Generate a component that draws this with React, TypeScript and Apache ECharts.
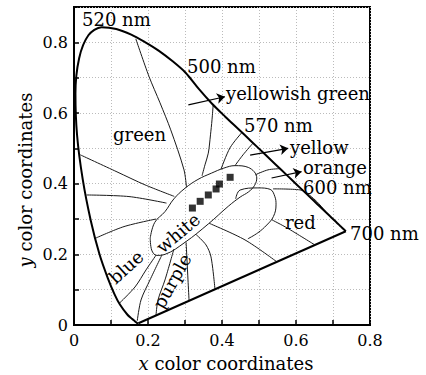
import React, { useEffect, useRef } from "react";
import * as echarts from "echarts";

// spectral locus as drawn (380 nm ... 700 nm)
const locusX = [0.1741, 0.1738, 0.1733, 0.1726, 0.1714, 0.1689, 0.1644, 0.1566, 0.144, 0.1241, 0.1096, 0.0913, 0.0687, 0.0454, 0.0235, 0.0082, 0.0039, 0.0139, 0.0389, 0.0743, 0.1142, 0.1547, 0.1929, 0.2296, 0.2658, 0.3016, 0.3373, 0.3731, 0.4087, 0.4441, 0.4788, 0.5125, 0.5448, 0.5752, 0.6029, 0.627, 0.6482, 0.6658, 0.6801, 0.6915, 0.7006, 0.7079, 0.714, 0.719, 0.723, 0.726, 0.7347];
const locusY = [0.005, 0.0049, 0.0048, 0.0048, 0.0051, 0.0069, 0.0109, 0.0177, 0.0297, 0.0578, 0.0868, 0.1327, 0.2007, 0.295, 0.4127, 0.5384, 0.6548, 0.755, 0.82, 0.843, 0.838, 0.822, 0.8, 0.776, 0.747, 0.714, 0.668, 0.626, 0.5896, 0.5547, 0.5202, 0.4866, 0.4544, 0.4242, 0.3965, 0.3725, 0.3514, 0.334, 0.3197, 0.3083, 0.2993, 0.292, 0.2859, 0.2809, 0.277, 0.274, 0.2653];

// white region outline
const whiteX = [0.206, 0.218, 0.246, 0.27, 0.3, 0.335, 0.372, 0.405, 0.435, 0.471, 0.494, 0.488, 0.472, 0.449, 0.417, 0.363, 0.3, 0.246, 0.224, 0.21, 0.206];
const whiteY = [0.246, 0.29, 0.321, 0.357, 0.387, 0.412, 0.43, 0.444, 0.451, 0.446, 0.416, 0.395, 0.377, 0.362, 0.336, 0.286, 0.234, 0.2, 0.197, 0.212, 0.246];

// lobe right of the white region
const lobeX = [0.437, 0.449, 0.497, 0.53, 0.543, 0.546, 0.539, 0.521, 0.497, 0.47];
const lobeY = [0.357, 0.382, 0.388, 0.384, 0.363, 0.34, 0.307, 0.283, 0.261, 0.244];

// region boundary lines: [x list, y list]
const boundaryLines: [number[], number[]][] = [
  [[0.167, 0.2027, 0.2324, 0.2614, 0.2973, 0.304], [0.81, 0.7034, 0.6289, 0.5524, 0.4391, 0.39]],
  [[0.376, 0.373, 0.3689, 0.363, 0.354, 0.346], [0.621, 0.5807, 0.5382, 0.4864, 0.4533, 0.4221]],
  [[0.454, 0.4216, 0.397], [0.545, 0.5014, 0.44]],
  [[0.484, 0.4568, 0.435], [0.515, 0.4816, 0.451]],
  [[0.49, 0.5243, 0.557], [0.425, 0.4391, 0.4425]],
  [[0.5378, 0.6108, 0.6514, 0.6865], [0.3853, 0.3824, 0.3541, 0.313]],
  [[0.5351, 0.5757, 0.651], [0.2975, 0.2748, 0.2266]],
  [[0.365, 0.4622, 0.5486], [0.288, 0.2408, 0.1785]],
  [[0.33, 0.3568, 0.3703, 0.381], [0.256, 0.2266, 0.1926, 0.101]],
  [[0.303, 0.3054, 0.3081, 0.311], [0.234, 0.1841, 0.1275, 0.0685]],
  [[0.27, 0.2459, 0.227, 0.2216], [0.215, 0.1275, 0.0708, 0.027]],
  [[0.238, 0.2054, 0.1811, 0.171], [0.199, 0.1275, 0.0708, 0.012]],
  [[0.222, 0.1946, 0.1649, 0.123], [0.198, 0.1558, 0.1076, 0.062]],
  [[0.058, 0.1351, 0.222], [0.2456, 0.2785, 0.3]],
  [[0.034, 0.1486, 0.25], [0.368, 0.3635, 0.345]],
  [[0.017, 0.1162, 0.1919, 0.271], [0.4816, 0.4334, 0.3966, 0.364]],
];

// measured chromaticity points
const pointX = [0.32, 0.341, 0.363, 0.384, 0.393, 0.422];
const pointY = [0.331, 0.35, 0.368, 0.385, 0.399, 0.418];

// arrows [x1, y1, x2, y2]
const arrows = [
  [0.309, 0.623, 0.408, 0.646],
  [0.476, 0.481, 0.579, 0.5],
  [0.534, 0.416, 0.615, 0.434],
];

const xTickValues = [0, 0.2, 0.4, 0.6, 0.8];
const yTickValues = [0, 0.2, 0.4, 0.6, 0.8];

const FONT = "DejaVu Serif";

function pairs(xs: number[], ys: number[]) {
  return xs.map((x, i) => [x, ys[i]]);
}

function fmt(v: number, ticks: number[]) {
  const hit = ticks.find((t) => Math.abs(t - v) < 1e-6);
  if (hit === undefined) return "";
  return hit === 0 ? "0" : hit.toFixed(1);
}

export default function App() {
  const ref = useRef<HTMLDivElement>(null);
  useEffect(() => {
    if (!ref.current) return;
    const chart = echarts.init(ref.current, undefined, { renderer: "svg" });
    const thin = { color: "#1a1a1a", width: 1 };
    const series: any[] = [
      {
        type: "line",
        data: pairs(locusX, locusY),
        smooth: 0.3,
        symbol: "none",
        lineStyle: { color: "#000", width: 2 },
        z: 5,
      },
      {
        type: "line",
        data: [
          [locusX[0], locusY[0]],
          [locusX[locusX.length - 1], locusY[locusY.length - 1]],
        ],
        symbol: "none",
        lineStyle: { color: "#000", width: 2 },
        z: 5,
      },
      {
        type: "line",
        data: pairs(whiteX, whiteY),
        smooth: 0.4,
        symbol: "none",
        lineStyle: thin,
      },
      {
        type: "line",
        data: pairs(lobeX, lobeY),
        smooth: 0.4,
        symbol: "none",
        lineStyle: thin,
      },
      ...boundaryLines.map(([xs, ys]) => ({
        type: "line",
        data: pairs(xs, ys),
        smooth: 0.3,
        symbol: "none",
        lineStyle: thin,
      })),
      {
        type: "scatter",
        data: pairs(pointX, pointY),
        symbol: "rect",
        symbolSize: 7,
        itemStyle: { color: "#000" },
        z: 6,
      },
      {
        type: "lines",
        coordinateSystem: "cartesian2d",
        data: arrows.map((a) => ({ coords: [[a[0], a[1]], [a[2], a[3]]] })),
        symbol: ["none", "arrow"],
        symbolSize: 8,
        lineStyle: { color: "#000", width: 1.2, opacity: 1 },
        z: 6,
      },
    ];
    const label = (text: string, x: number, y: number, rot = 0, align = "left") => ({
      type: "text",
      x,
      y,
      rotation: (rot * Math.PI) / 180,
      z: 10,
      style: {
        text,
        fill: "#000",
        font: `18px "${FONT}"`,
        textAlign: align,
        textVerticalAlign: "middle",
      },
    });
    chart.setOption({
      animation: false,
      grid: {
        left: 74,
        right: 56,
        top: 7,
        bottom: 50,
        show: true,
        borderColor: "#000",
        borderWidth: 2,
      },
      xAxis: {
        type: "value",
        min: 0,
        max: 0.8,
        interval: 0.1,
        axisLine: { lineStyle: { color: "#000", width: 2 } },
        axisTick: { inside: true, length: 5, lineStyle: { color: "#000", width: 1.5 } },
        axisLabel: {
          formatter: (v: number) => fmt(v, xTickValues),
          color: "#000",
          fontFamily: FONT,
          fontSize: 16,
          margin: 7,
        },
        splitLine: { show: true, lineStyle: { color: "#bbb", type: [1, 2], width: 1 } },
      },
      yAxis: {
        type: "value",
        min: 0,
        max: 0.9,
        interval: 0.1,
        axisLine: { lineStyle: { color: "#000", width: 2 } },
        axisTick: { inside: true, length: 5, lineStyle: { color: "#000", width: 1.5 } },
        axisLabel: {
          formatter: (v: number) => fmt(v, yTickValues),
          color: "#000",
          fontFamily: FONT,
          fontSize: 16,
          margin: 6,
        },
        splitLine: { show: true, lineStyle: { color: "#bbb", type: [1, 2], width: 1 } },
      },
      series,
      graphic: [
        label("520 nm", 82, 19),
        label("500 nm", 187, 66),
        label("yellowish green", 226, 93),
        label("green", 113, 134),
        label("570 nm", 244, 125),
        label("yellow", 290, 147),
        label("orange", 303, 167),
        label("600 nm", 303, 187),
        label("red", 285, 222),
        label("700 nm", 350, 233),
        label("white", 178, 233, 40, "center"),
        label("blue", 126, 267, 42, "center"),
        label("purple", 172, 281, 61, "center"),
        {
          type: "text",
          x: 226,
          y: 363,
          z: 10,
          style: {
            text: "{i|x} color coordinates",
            fill: "#000",
            font: `18px "${FONT}"`,
            textAlign: "center",
            textVerticalAlign: "middle",
            rich: { i: { fontStyle: "italic", fontFamily: FONT, fontSize: 18, fill: "#000" } },
          },
        },
        {
          type: "text",
          x: 25,
          y: 180,
          rotation: Math.PI / 2,
          z: 10,
          style: {
            text: "{i|y} color coordinates",
            fill: "#000",
            font: `18px "${FONT}"`,
            textAlign: "center",
            textVerticalAlign: "middle",
            rich: { i: { fontStyle: "italic", fontFamily: FONT, fontSize: 18, fill: "#000" } },
          },
        },
      ],
    });
    return () => chart.dispose();
  }, []);
  return (
    <div
      ref={ref}
      style={{ position: "absolute", left: 0, top: 0, width: 426, height: 375 }}
    />
  );
}
